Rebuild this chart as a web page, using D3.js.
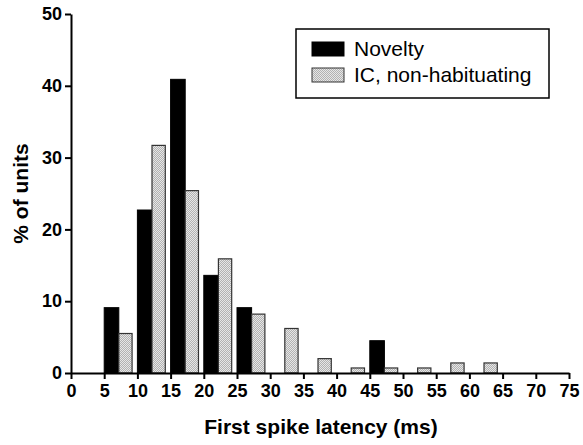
<!DOCTYPE html>
<html>
<head>
<meta charset="utf-8">
<script src="https://cdnjs.cloudflare.com/ajax/libs/d3/7.8.5/d3.min.js"></script>
<style>
  body { margin: 0; background: #fff; }
  svg { display: block; font-family: "Liberation Sans", Arial, sans-serif; }
</style>
</head>
<body>
<div id="chart"></div>
<script>
// bin start (ms) for each pair of bars
var bins = [5, 10, 15, 20, 25, 30, 35, 40, 45, 50, 55, 60];
// % of units per bin
var novelty = [9.1, 22.7, 40.9, 13.6, 9.1, 0, 0, 0, 4.5, 0, 0, 0];
var icNonHab = [5.5, 31.7, 25.4, 15.9, 8.2, 6.2, 2.0, 0.7, 0.7, 0.7, 1.4, 1.4];
var seriesNames = ["Novelty", "IC, non-habituating"];
var xTicks = d3.range(0, 80, 5);
var yTicks = [0, 10, 20, 30, 40, 50];

var W = 583, H = 445;
var margin = {left: 71, right: 14, top: 14, bottom: 72};
var width = W - margin.left - margin.right;
var height = H - margin.top - margin.bottom;

var svg = d3.select("#chart").append("svg")
    .attr("width", W)
    .attr("height", H);

// stipple pattern for the grey bars
var defs = svg.append("defs");
var pat = defs.append("pattern")
    .attr("id", "stipple")
    .attr("patternUnits", "userSpaceOnUse")
    .attr("width", 2).attr("height", 2);
pat.append("rect").attr("width", 2).attr("height", 2).attr("fill", "#e6e6e6");
pat.append("rect").attr("width", 1).attr("height", 1).attr("fill", "#b2b2b2");
pat.append("rect").attr("x", 1).attr("y", 1).attr("width", 1).attr("height", 1).attr("fill", "#b2b2b2");

var chart = svg.append("g")
    .attr("transform", "translate(" + margin.left + "," + margin.top + ")");

var x = d3.scaleLinear().domain([0, 75]).range([0, width]);
var y = d3.scaleLinear().domain([0, 50]).range([height, 0]);

var barW = 2.2;   // bar width in ms units

// Novelty bars (black)
chart.append("g").selectAll("rect")
    .data(bins)
    .enter()
    .filter(function(d, i) { return novelty[i] > 0; })
    .append("rect")
    .attr("x", function(d) { return x(d); })
    .attr("width", x(barW) - x(0))
    .attr("y", function(d) { return y(novelty[bins.indexOf(d)]); })
    .attr("height", function(d) { return height - y(novelty[bins.indexOf(d)]); })
    .attr("fill", "#000")
    .attr("stroke", "#000")
    .attr("stroke-width", 1);

// IC non-habituating bars (stippled grey)
chart.append("g").selectAll("rect")
    .data(bins)
    .enter()
    .filter(function(d, i) { return icNonHab[i] > 0; })
    .append("rect")
    .attr("x", function(d) { return x(d + barW); })
    .attr("width", x(2.0) - x(0))
    .attr("y", function(d) { return y(icNonHab[bins.indexOf(d)]); })
    .attr("height", function(d) { return height - y(icNonHab[bins.indexOf(d)]); })
    .attr("fill", "url(#stipple)")
    .attr("stroke", "#333")
    .attr("stroke-width", 1.2);

// axes
var xAxis = d3.axisBottom(x).tickValues(xTicks).tickSize(6).tickSizeOuter(0).tickPadding(5);
var yAxis = d3.axisLeft(y).tickValues(yTicks).tickSize(6).tickSizeOuter(0).tickPadding(3);

var gx = chart.append("g")
    .attr("transform", "translate(0," + height + ")")
    .call(xAxis);
var gy = chart.append("g").call(yAxis);

[gx, gy].forEach(function(g) {
    g.select(".domain").attr("stroke", "#000").attr("stroke-width", 2);
    g.selectAll(".tick line").attr("stroke", "#000").attr("stroke-width", 2);
    g.selectAll(".tick text")
        .attr("fill", "#000")
        .style("font-size", "18px")
        .style("font-weight", "bold")
        .style("font-family", "'Liberation Sans', Arial, sans-serif");
});

// axis titles
svg.append("text")
    .attr("x", margin.left + width / 2 + 1)
    .attr("y", 434)
    .attr("text-anchor", "middle")
    .style("font-size", "21px")
    .style("font-weight", "bold")
    .text("First spike latency (ms)");

svg.append("text")
    .attr("transform", "translate(28," + (margin.top + height / 2) + ") rotate(-90)")
    .attr("text-anchor", "middle")
    .style("font-size", "21px")
    .style("font-weight", "bold")
    .text("% of units");

// legend
var legend = svg.append("g").attr("transform", "translate(296,29)");
legend.append("rect")
    .attr("width", 253).attr("height", 69)
    .attr("fill", "#fff")
    .attr("stroke", "#000")
    .attr("stroke-width", 1.5);

var swFill = ["#000", "url(#stipple)"];
var swStroke = ["#000", "#333"];
seriesNames.forEach(function(name, i) {
    var row = legend.append("g").attr("transform", "translate(0," + (13 + i * 26) + ")");
    row.append("rect")
        .attr("x", 16).attr("width", 32).attr("height", 14)
        .attr("fill", swFill[i])
        .attr("stroke", swStroke[i])
        .attr("stroke-width", 1);
    row.append("text")
        .attr("x", 58).attr("y", 14)
        .style("font-size", "21px")
        .text(name);
});
</script>
</body>
</html>
